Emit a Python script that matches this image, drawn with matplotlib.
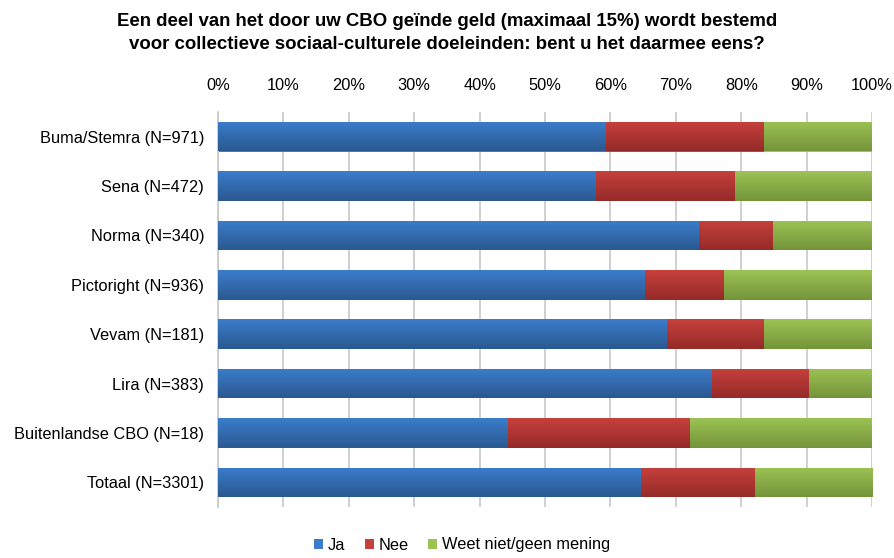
import numpy as np
import matplotlib
matplotlib.use("Agg")
import matplotlib.pyplot as plt
from matplotlib.colors import LinearSegmentedColormap
from matplotlib.patches import Patch

plt.rcParams['font.family'] = ['Liberation Sans', 'DejaVu Sans']

categories = ["Buma/Stemra (N=971)", "Sena (N=472)", "Norma (N=340)",
              "Pictoright (N=936)", "Vevam (N=181)", "Lira (N=383)",
              "Buitenlandse CBO (N=18)", "Totaal (N=3301)"]
ja = [59.3, 57.8, 73.6, 65.3, 68.7, 75.5, 44.4, 64.7]
nee = [24.2, 21.3, 11.3, 12.1, 14.8, 14.9, 27.8, 17.4]
weet = [100 - a - b for a, b in zip(ja, nee)]
series = ["Ja", "Nee", "Weet niet/geen mening"]

# top / bottom colours of the Excel-style gradient
grad = {
    "Ja": ("#3b7ccb", "#2b5990"),
    "Nee": ("#c6403c", "#952b29"),
    "Weet niet/geen mening": ("#9cc254", "#74943a"),
}

fig = plt.figure(figsize=(8.94, 5.58), dpi=100)
ax = fig.add_axes([218 / 894, 1 - 507 / 558, 654 / 894, 395 / 558])

y = np.arange(len(categories))
left = np.zeros(len(categories))
for name, vals in zip(series, [ja, nee, weet]):
    top, bot = grad[name]
    bars = ax.barh(y, vals, left=left, height=0.6, color=top, zorder=2)
    cmap = LinearSegmentedColormap.from_list(name, [top, bot])
    for b in bars:
        x0, y0 = b.get_x(), b.get_y()
        w, h = b.get_width(), b.get_height()
        # y axis is inverted, so y0 is the visual top of the bar
        im = ax.imshow(np.linspace(0, 1, 64).reshape(-1, 1), cmap=cmap,
                       aspect="auto", extent=(x0, x0 + w, y0 + h, y0),
                       origin="upper", zorder=3)
        im.set_clip_path(b)
    left += np.array(vals)

ax.set_xlim(0, 100)
ax.set_ylim(len(categories) - 0.5, -0.5)
ax.set_yticks(y)
ax.set_yticklabels(categories, fontsize=11.8)
ax.set_xticks(np.arange(0, 101, 10))
ax.set_xticklabels([f"{v}%" for v in range(0, 101, 10)], fontsize=11.8)
ax.xaxis.tick_top()
ax.tick_params(axis="x", length=0, pad=14)
ax.tick_params(axis="y", length=0, pad=10)
ax.grid(axis="x", color="#c8c8c8", linewidth=1.2, zorder=0)
ax.set_axisbelow(True)
for s in ["top", "right", "bottom"]:
    ax.spines[s].set_visible(False)
ax.spines["left"].set_color("#c8c8c8")
ax.spines["left"].set_linewidth(1.2)

fig.text(0.5, 1 - 33 / 558,
         "Een deel van het door uw CBO geïnde geld (maximaal 15%) wordt bestemd\n"
         "voor collectieve sociaal-culturele doeleinden: bent u het daarmee eens?",
         ha="center", va="center", fontsize=13.4, fontweight="bold",
         linespacing=1.45)

handles = [Patch(facecolor=grad[n][0], label=n) for n in series]
fig.legend(handles=handles, loc="center", bbox_to_anchor=(462 / 894, 1 - 545 / 558),
           ncol=3, frameon=False, fontsize=11.8, handlelength=0.55,
           handleheight=0.55, handletextpad=0.3, columnspacing=1.2)

fig.savefig("out.png", dpi=100)
